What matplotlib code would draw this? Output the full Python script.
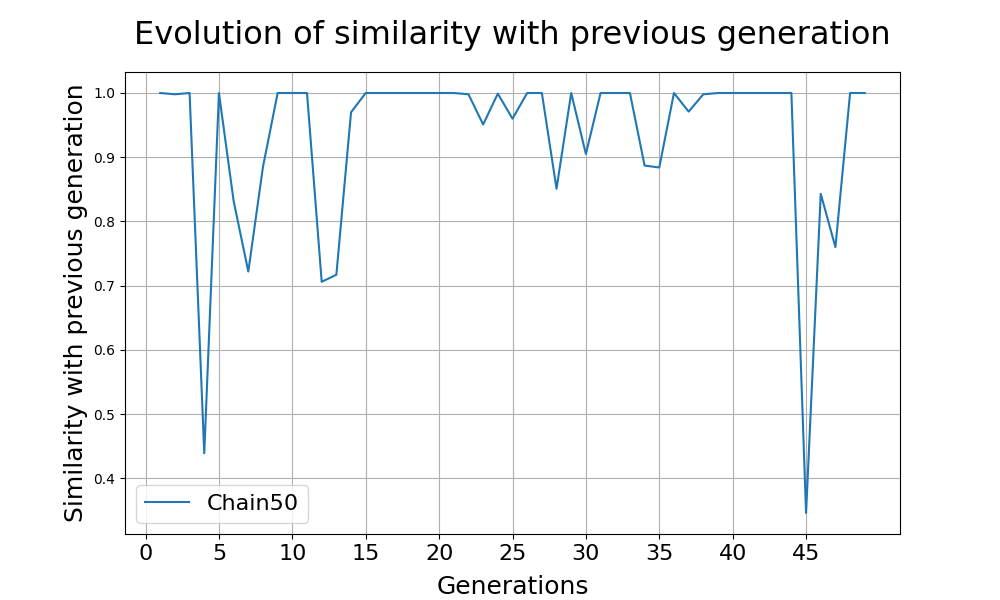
import matplotlib
matplotlib.use('Agg')
import matplotlib.pyplot as plt

# similarity values per generation
generations = list(range(1, 50))
similarity = [1.0, 0.998, 1.0, 0.439, 1.0, 0.832, 0.722, 0.885, 1.0, 1.0,
              1.0, 0.706, 0.717, 0.970, 1.0, 1.0, 1.0, 1.0, 1.0, 1.0,
              1.0, 0.998, 0.951, 0.999, 0.960, 1.0, 1.0, 0.851, 1.0, 0.905,
              1.0, 1.0, 1.0, 0.887, 0.884, 1.0, 0.971, 0.998, 1.0, 1.0,
              1.0, 1.0, 1.0, 1.0, 0.346, 0.843, 0.760, 1.0, 1.0]
xticks = list(range(0, 50, 5))

fig, ax = plt.subplots(figsize=(10, 6), dpi=100)
ax.plot(generations, similarity, label='Chain50')
ax.set_title('Evolution of similarity with previous generation', fontsize=23, pad=20)
ax.set_xlabel('Generations', fontsize=18, labelpad=8)
ax.set_ylabel('Similarity with previous generation', fontsize=18)
ax.set_xticks(xticks)
ax.tick_params(axis='x', labelsize=16)
ax.grid(True)
ax.legend(loc='lower left', fontsize=16)
plt.savefig('out.png')
